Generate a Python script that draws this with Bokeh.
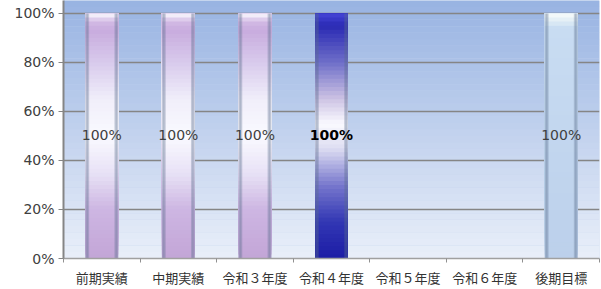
from bokeh.plotting import figure
from bokeh.models import Range1d, FixedTicker, NumeralTickFormatter, BoxAnnotation, ColumnDataSource
from bokeh.core.properties import value
from bokeh.embed import file_html
from bokeh.resources import INLINE

# ---- data ----
categories = ["前期実績", "中期実績", "令和３年度", "令和４年度", "令和５年度", "令和６年度", "後期目標"]
rates = [1.0, 1.0, 1.0, 1.0, None, None, 1.0]
labels = ["100%", "100%", "100%", "100%", "", "", "100%"]
styles = ["purple", "purple", "purple", "blue", None, None, "light"]
y_ticks = [0, 0.2, 0.4, 0.6, 0.8, 1.0]

# ---- style ----
CJK = "Noto Sans CJK JP"
NUMF = "DejaVu Sans"
STOPS = {
    "purple": [(0, (195, 165, 215)), (0.2, (205, 182, 226)), (0.35, (232, 226, 246)),
               (0.5, (250, 250, 255)), (0.65, (240, 238, 250)), (0.8, (216, 202, 236)),
               (0.93, (200, 172, 222)), (0.965, (210, 185, 228)), (1.0, (252, 252, 255))],
    "blue": [(0, (28, 28, 165)), (0.15, (50, 55, 180)), (0.3, (120, 120, 205)),
             (0.45, (222, 222, 242)), (0.55, (250, 250, 255)), (0.65, (205, 195, 228)),
             (0.8, (110, 110, 200)), (0.95, (42, 42, 180)), (1.0, (70, 70, 215))],
    "light": [(0, (188, 208, 235)), (0.94, (200, 220, 242)), (0.97, (225, 238, 245)), (1.0, (248, 252, 250))],
}


def interp(stops, t):
    for (t0, c0), (t1, c1) in zip(stops[:-1], stops[1:]):
        if t0 <= t <= t1:
            f = 0 if t1 == t0 else (t - t0) / (t1 - t0)
            return "#%02x%02x%02x" % tuple(int(round(a + (b - a) * f)) for a, b in zip(c0, c1))
    return "#%02x%02x%02x" % stops[-1][1]


n = len(categories)
y_top = 1.0528

p = figure(width=601, height=289, output_backend="svg", toolbar_location=None,
           x_range=Range1d(0, n), y_range=Range1d(0, y_top),
           min_border_left=63, min_border_right=2, min_border_top=0, min_border_bottom=30)
p.outline_line_color = None
p.background_fill_color = "#c4d3ee"
p.border_fill_color = "white"

# background vertical gradient
bg_top = (152, 179, 226)
bg_bot = (233, 239, 249)
NB = 40
for k in range(NB):
    f = (k + 0.5) / NB
    c = tuple(int(round(b + (t - b) * f)) for b, t in zip(bg_bot, bg_top))
    p.add_layout(BoxAnnotation(bottom=y_top * k / NB, top=y_top * (k + 1.02) / NB,
                               fill_color="#%02x%02x%02x" % c, fill_alpha=1.0,
                               line_color=None, level="image"))

# grid
p.xgrid.grid_line_color = None
p.ygrid.ticker = FixedTicker(ticks=y_ticks)
p.ygrid.grid_line_color = "#858585"
p.ygrid.grid_line_width = 1.3

# bars drawn as overlapping vertical gradient slices (no seams)
bw = 0.43
N = 60
L, R, B, T, C = [], [], [], [], []
EL, ER, EB, ET = [], [], [], []
for i, (v, st) in enumerate(zip(rates, styles)):
    if v is None:
        continue
    cx = i + 0.5
    for k in range(N):
        t = (k + 0.5) / N
        L.append(cx - bw / 2); R.append(cx + bw / 2)
        B.append(v * k / N); T.append(v)
        C.append(interp(STOPS[st], t))
    EL += [cx - bw / 2, cx + bw / 2 - 0.05]
    ER += [cx - bw / 2 + 0.05, cx + bw / 2]
    EB += [0, 0]
    ET += [v, v]

p.quad(left=L, right=R, bottom=B, top=T, fill_color=C, line_color=None)
p.quad(left=EL, right=ER, bottom=EB, top=ET, fill_color="#5a6e8c", fill_alpha=0.3, line_color=None)
p.quad(left=[l + 0.015 for l in EL], right=[r - 0.015 for r in ER], bottom=EB, top=ET,
       fill_color="#5a6e8c", fill_alpha=0.2, line_color=None)

# value labels
lx, ly, lt, lc, lw = [], [], [], [], []
for i, (v, s, st) in enumerate(zip(rates, labels, styles)):
    if v is None:
        continue
    lx.append(i + 0.5); ly.append(v * 0.505); lt.append(s)
    lc.append("#000000" if st == "blue" else "#404040")
    lw.append("bold" if st == "blue" else "normal")
src = ColumnDataSource(dict(x=lx, y=ly, text=lt, color=lc, weight=lw))
p.text(x="x", y="y", text="text", source=src, text_align="center", text_baseline="middle",
       text_color="color", text_font_style="weight", text_font_size="14px",
       text_font=value(NUMF))

# axes
p.yaxis.ticker = FixedTicker(ticks=y_ticks)
p.yaxis.formatter = NumeralTickFormatter(format="0%")
p.yaxis.axis_line_color = "#858585"
p.yaxis.axis_line_width = 2
p.yaxis.major_tick_line_color = "#858585"
p.yaxis.major_tick_out = 5
p.yaxis.major_tick_in = 0
p.yaxis.minor_tick_line_color = None
p.yaxis.major_label_text_font = NUMF
p.yaxis.major_label_text_font_size = "14px"
p.yaxis.major_label_text_color = "#404040"
p.yaxis.major_label_standoff = 4

centers = [i + 0.5 for i in range(n)]
p.xaxis.ticker = FixedTicker(ticks=centers, minor_ticks=list(range(n + 1)))
p.xaxis.major_label_overrides = {c: lab for c, lab in zip(centers, categories)}
p.xaxis.major_tick_line_color = None
p.xaxis.major_tick_out = 0
p.xaxis.major_tick_in = 0
p.xaxis.minor_tick_line_color = "#909090"
p.xaxis.minor_tick_out = 4
p.xaxis.minor_tick_in = 0
p.xaxis.axis_line_color = "#a0a0a0"
p.xaxis.axis_line_width = 1.5
p.xaxis.major_label_text_font = CJK
p.xaxis.major_label_text_font_size = "13px"
p.xaxis.major_label_text_color = "#333333"
p.xaxis.major_label_standoff = 5

open("out.html", "w").write(file_html(p, INLINE))
